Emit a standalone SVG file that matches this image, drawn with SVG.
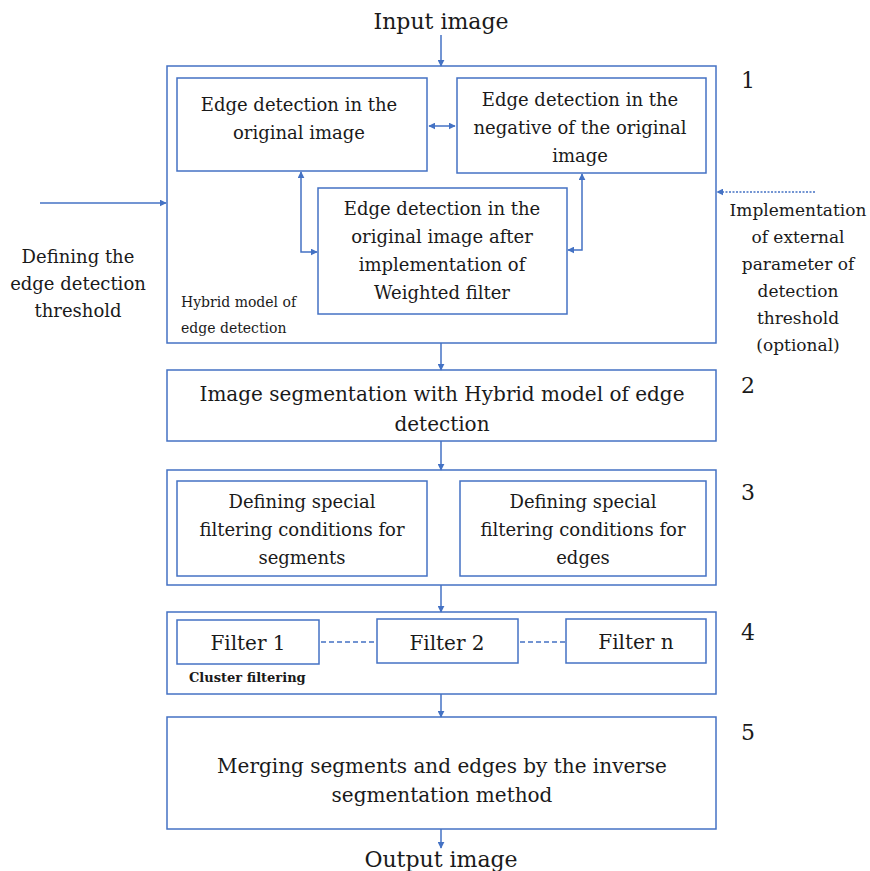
<svg xmlns="http://www.w3.org/2000/svg" width="870" height="871" viewBox="0 0 870 871">
<defs>
<marker id="ah" viewBox="0 0 10 10" refX="9" refY="5" markerWidth="7" markerHeight="7" orient="auto-start-reverse" markerUnits="userSpaceOnUse">
<path d="M0,0 L10,5 L0,10 z" fill="#4472C4"/>
</marker>
<style>
.box{fill:#fff;stroke:#4472C4;stroke-width:1.5}
.ln{fill:none;stroke:#4472C4;stroke-width:1.5}
text{font-family:'DejaVu Serif',serif;fill:#1a1a1a;text-anchor:middle}
.s20{font-size:18px}
.s17{font-size:17px}
.s22{font-size:20px}
.s24{font-size:22px}
.sm{font-size:14px;text-anchor:start}
</style>
</defs>
<rect width="870" height="871" fill="#fff"/>
<g id="outer1"><rect class="box" x="167" y="66" width="549" height="277"/>
<text class="sm" x="181" y="307">Hybrid model of</text>
<text class="sm" x="181" y="333">edge detection</text>
<text class="s24" x="748" y="88">1</text></g>
<g id="box_orig"><rect class="box" x="177" y="78" width="250" height="93"/>
<text class="s20" x="299" y="111">Edge detection in the</text>
<text class="s20" x="299" y="139">original  image</text></g>
<g id="box_neg"><rect class="box" x="457" y="78" width="249" height="95"/>
<text class="s20" x="580" y="106">Edge detection in the</text>
<text class="s20" x="580" y="134">negative  of the original</text>
<text class="s20" x="580" y="162">image</text></g>
<g id="box_weighted"><rect class="box" x="318" y="188" width="249" height="126"/>
<text class="s20" x="442" y="215">Edge detection in the</text>
<text class="s20" x="442" y="243">original  image after</text>
<text class="s20" x="442" y="271">implementation  of</text>
<text class="s20" x="442" y="299">Weighted filter</text></g>
<g id="input"><text class="s24" x="441" y="29">Input image</text></g>
<g id="left_label"><text class="s20" x="78" y="263">Defining  the</text>
<text class="s20" x="78" y="290">edge detection</text>
<text class="s20" x="78" y="317">threshold</text></g>
<g id="right_label"><text class="s17" x="798" y="216">Implementation</text>
<text class="s17" x="798" y="243">of external</text>
<text class="s17" x="798" y="270">parameter of</text>
<text class="s17" x="798" y="297">detection</text>
<text class="s17" x="798" y="324">threshold</text>
<text class="s17" x="798" y="351">(optional)</text></g>
<g id="box2"><rect class="box" x="167" y="370" width="549" height="71"/>
<text class="s22" x="442" y="401">Image  segmentation  with Hybrid model of edge</text>
<text class="s22" x="442" y="431">detection</text>
<text class="s24" x="748" y="393">2</text></g>
<g id="box3"><rect class="box" x="167" y="470" width="549" height="115"/>
<text class="s24" x="748" y="500">3</text></g>
<g id="box3a"><rect class="box" x="177" y="481" width="250" height="95"/>
<text class="s20" x="302" y="508">Defining  special</text>
<text class="s20" x="302" y="536">filtering  conditions for</text>
<text class="s20" x="302" y="564">segments</text></g>
<g id="box3b"><rect class="box" x="460" y="481" width="246" height="95"/>
<text class="s20" x="583" y="508">Defining  special</text>
<text class="s20" x="583" y="536">filtering  conditions for</text>
<text class="s20" x="583" y="564">edges</text></g>
<g id="box4"><rect class="box" x="167" y="612" width="549" height="82"/>
<text class="sm" x="189" y="682" style="font-weight:bold;font-size:13px">Cluster filtering</text>
<text class="s24" x="748" y="640">4</text></g>
<g id="filter1"><rect class="box" x="177" y="620" width="142" height="44"/>
<text class="s22" x="248" y="650">Filter 1</text></g>
<g id="filter2"><rect class="box" x="377" y="619" width="141" height="44"/>
<text class="s22" x="447" y="650">Filter 2</text></g>
<g id="filtern"><rect class="box" x="566" y="619" width="140" height="44"/>
<text class="s22" x="636" y="649">Filter n</text></g>
<g id="box5"><rect class="box" x="167" y="717" width="549" height="112"/>
<text class="s22" x="442" y="773">Merging  segments  and  edges  by the  inverse</text>
<text class="s22" x="442" y="802">segmentation  method</text>
<text class="s24" x="748" y="740">5</text></g>
<g id="output"><text class="s24" x="441" y="867">Output image</text></g>
<g id="connectors">
<line class="ln" x1="441" y1="35" x2="441" y2="66" marker-end="url(#ah)"/>
<line class="ln" x1="429" y1="126" x2="455" y2="126" marker-start="url(#ah)" marker-end="url(#ah)"/>
<polyline class="ln" points="301,172 301,252 317,252" marker-start="url(#ah)" marker-end="url(#ah)"/>
<polyline class="ln" points="582,174 582,250 568,250" marker-start="url(#ah)" marker-end="url(#ah)"/>
<line class="ln" x1="40" y1="203" x2="166" y2="203" marker-end="url(#ah)"/>
<line class="ln" x1="815" y1="192" x2="717" y2="192" stroke-dasharray="2,1.5" marker-end="url(#ah)"/>
<line class="ln" x1="441" y1="343" x2="441" y2="370" marker-end="url(#ah)"/>
<line class="ln" x1="441" y1="441" x2="441" y2="470" marker-end="url(#ah)"/>
<line class="ln" x1="441" y1="585" x2="441" y2="612" marker-end="url(#ah)"/>
<line class="ln" x1="441" y1="694" x2="441" y2="717" marker-end="url(#ah)"/>
<line class="ln" x1="441" y1="829" x2="441" y2="848" marker-end="url(#ah)"/>
<line class="ln" x1="321" y1="642" x2="376" y2="642" stroke-dasharray="5,3"/>
<line class="ln" x1="520" y1="642" x2="565" y2="642" stroke-dasharray="5,3"/>
</g>
</svg>
